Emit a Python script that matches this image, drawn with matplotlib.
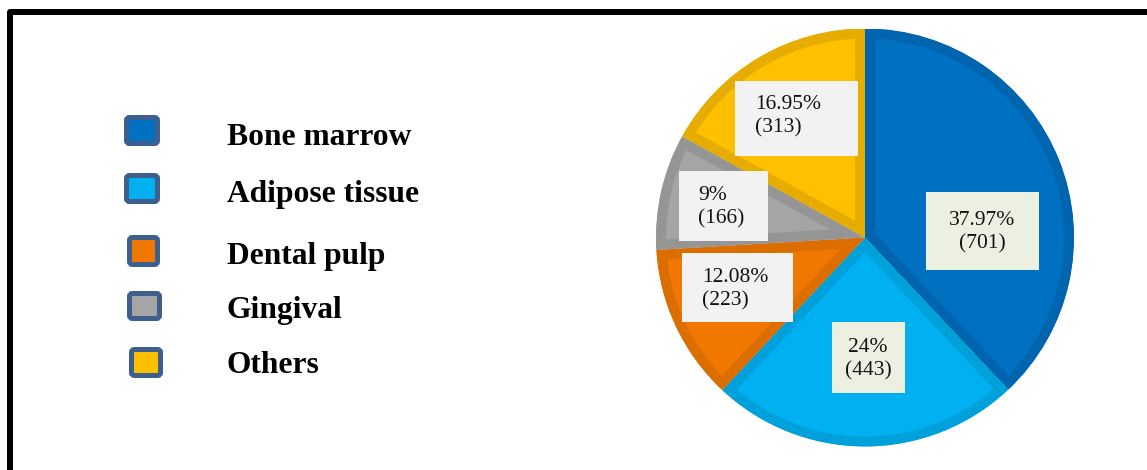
import matplotlib.pyplot as plt
from matplotlib.patches import Rectangle, FancyBboxPatch

# source counts per tissue
categories = ['Bone marrow', 'Adipose tissue', 'Dental pulp', 'Gingival', 'Others']
counts = [701, 443, 223, 166, 313]
percent_labels = ['37.97%', '24%', '12.08%', '9%', '16.95%']

fill_colors = ['#0070C0', '#00B0F0', '#F07800', '#A5A5A5', '#FFC000']
edge_colors = ['#0065AE', '#00A0DA', '#DC6E00', '#959595', '#E6AD00']

W, H = 1147, 470
PX = 72.0 / 100  # points per pixel at dpi 100

fig = plt.figure(figsize=(W / 100, H / 100), dpi=100)

# pie, center (865, 237.5) px, radius 209 px
cx, cy, r = 865, 237.5, 209
ax = fig.add_axes([(cx - r) / W, (H - cy - r) / H, 2 * r / W, 2 * r / H])
wedges, _ = ax.pie(counts, colors=fill_colors, startangle=90, counterclock=False,
                   radius=1, wedgeprops=dict(linewidth=0))
for w, ec in zip(wedges, edge_colors):
    # inner border: thick edge clipped to the wedge itself
    w.set_edgecolor(ec)
    w.set_linewidth(20 * PX)
    w.set_clip_path(w)
    w.set_clip_on(True)
ax.set_xlim(-1, 1)
ax.set_ylim(-1, 1)

# overlay in pixel units for labels, legend and frame
ov = fig.add_axes([0, 0, 1, 1], zorder=5)
ov.set_xlim(0, W)
ov.set_ylim(H, 0)
ov.axis('off')
ov.patch.set_alpha(0)

# value boxes (x0, y0, x1, y1), text anchor and alignment
label_boxes = [(926, 192, 1039, 270), (832, 322, 905, 393), (682, 253, 793, 322),
               (679, 171, 768, 241), (735, 81, 858, 156)]
box_colors = ['#EBF0E1', '#EBF0E1', '#F2F2F2', '#F2F2F2', '#F2F2F2']
text_anchor = [(982, 232, 'center'), (868, 359, 'center'), (702, 289, 'left'),
               (698, 207, 'left'), (755, 116, 'left')]

for lab, n, (x0, y0, x1, y1), bc, (tx, ty, ha) in zip(percent_labels, counts, label_boxes,
                                                       box_colors, text_anchor):
    ov.add_patch(Rectangle((x0, y0), x1 - x0, y1 - y0, facecolor=bc, edgecolor='none'))
    ov.text(tx, ty, f'{lab}\n({n})', ha=ha, va='center', multialignment=ha,
            family='Liberation Serif', fontsize=15.5, color='#111111', linespacing=1.3)

# legend entries
legend_boxes = [(124, 115, 36, 31), (124, 173, 36, 31), (127, 235, 33, 32),
                (127, 291, 35, 30), (129, 347, 34, 31)]
legend_baseline = [145, 202, 264, 318, 373]
for name, fc, (x0, y0, bw, bh), ty in zip(categories, fill_colors, legend_boxes, legend_baseline):
    ov.add_patch(FancyBboxPatch((x0 + 2.5, y0 + 2.5), bw - 5, bh - 5,
                                boxstyle='round,pad=0,rounding_size=3',
                                facecolor=fc, edgecolor='#3C5F8E', linewidth=5 * PX))
    ov.text(227, ty, name, ha='left', va='baseline', family='Liberation Serif',
            fontweight='bold', fontsize=22.7, color='black')

# frame (only top and left edges fall inside the canvas)
ov.plot([10, 10, W + 10], [H + 10, 12, 12], color='black', linewidth=6 * PX,
        solid_joinstyle='round', clip_on=False)

fig.savefig('out.png', dpi=100)
